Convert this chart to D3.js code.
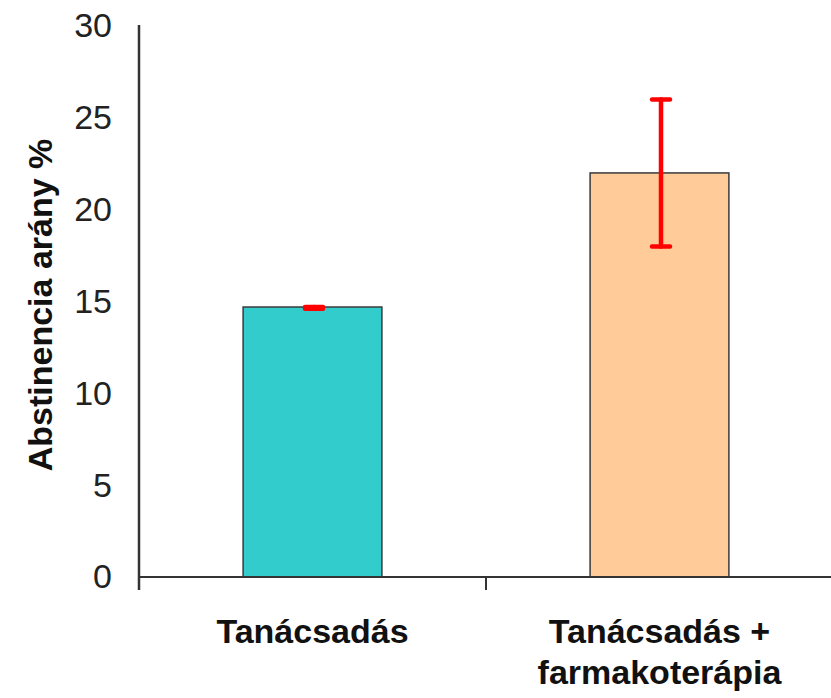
<!DOCTYPE html>
<html>
<head>
<meta charset="utf-8">
<script src="https://cdn.jsdelivr.net/npm/d3@7"></script>
<style>
  html, body { margin: 0; padding: 0; background: #fff; }
  svg { display: block; font-family: "Liberation Sans", Arial, sans-serif; }
</style>
</head>
<body>
<div id="chart"></div>
<script>
const categories = ["Tanácsadás", "Tanácsadás + farmakoterápia"];
const categoryLines = [["Tanácsadás"], ["Tanácsadás +", "farmakoterápia"]];
const values = [14.7, 22];
const errLow = [14.6, 18];
const errHigh = [14.7, 26];
const yTicks = [0, 5, 10, 15, 20, 25, 30];
const barColors = ["#33CCCC", "#FFCC99"];

const W = 831, H = 698;
const svg = d3.select("#chart").append("svg").attr("width", W).attr("height", H);

const x = d3.scaleBand().domain(categories).range([139, 833]).padding(0);
const y = d3.scaleLinear().domain([0, 30]).range([577, 26]);
const barW = x.bandwidth() * 0.4;

// y axis labels
const yAxis = svg.append("g").attr("transform", "translate(139,0)")
  .call(d3.axisLeft(y).tickValues(yTicks).tickSize(0).tickPadding(27));
yAxis.select(".domain").remove();
yAxis.selectAll("text").attr("font-size", 34).attr("fill", "#222")
  .attr("font-family", "'Liberation Sans', Arial, sans-serif");

// bars
svg.append("g").selectAll("rect").data(categories).join("rect")
  .attr("x", (d) => x(d) + (x.bandwidth() - barW) / 2)
  .attr("y", (d, i) => y(values[i]))
  .attr("width", barW)
  .attr("height", (d, i) => y(0) - y(values[i]))
  .attr("fill", (d, i) => barColors[i])
  .attr("stroke", "#3a3a3a")
  .attr("stroke-width", 1.5);

// error bars
const err = svg.append("g").attr("stroke", "#ff0000").attr("stroke-width", 4.5).attr("stroke-linecap", "round");
categories.forEach((c, i) => {
  const cx = x(c) + x.bandwidth() / 2 + 1.5;
  err.append("line").attr("x1", cx).attr("x2", cx).attr("y1", y(errLow[i])).attr("y2", y(errHigh[i]));
  [errLow[i], errHigh[i]].forEach((v) => {
    err.append("line").attr("x1", cx - 9).attr("x2", cx + 9).attr("y1", y(v)).attr("y2", y(v));
  });
});

// axis lines
svg.append("line").attr("x1", 139).attr("x2", 139).attr("y1", 25).attr("y2", 590)
  .attr("stroke", "#333").attr("stroke-width", 2.5);
svg.append("line").attr("x1", 139).attr("x2", W).attr("y1", y(0)).attr("y2", y(0))
  .attr("stroke", "#333").attr("stroke-width", 2);
svg.append("line").attr("x1", x(categories[1])).attr("x2", x(categories[1]))
  .attr("y1", y(0)).attr("y2", y(0) + 13)
  .attr("stroke", "#333").attr("stroke-width", 2);

// category labels
const catG = svg.append("g").attr("font-size", 34).attr("font-weight", "bold").attr("fill", "#111")
  .attr("text-anchor", "middle");
categories.forEach((c, i) => {
  const t = catG.append("text").attr("x", x(c) + x.bandwidth() / 2).attr("y", 643);
  categoryLines[i].forEach((line, j) => {
    t.append("tspan").attr("x", x(c) + x.bandwidth() / 2).attr("dy", j === 0 ? 0 : 41).text(line);
  });
});

// y title
svg.append("text")
  .attr("transform", "translate(52,305) rotate(-90)")
  .attr("text-anchor", "middle")
  .attr("font-size", 34).attr("font-weight", "bold").attr("fill", "#111")
  .text("Abstinencia arány %");
</script>
</body>
</html>
